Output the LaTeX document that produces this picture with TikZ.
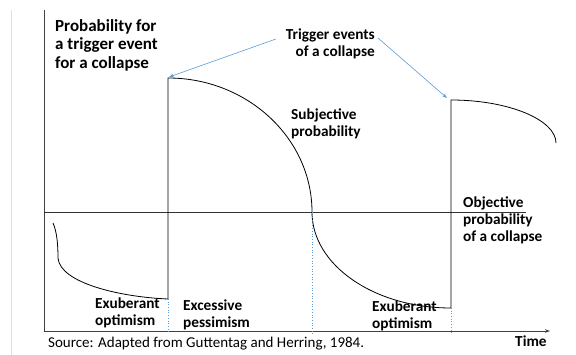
\documentclass[tikz,border=0pt]{standalone}
\usepackage{fontspec}
\setmainfont{Carlito}
\usetikzlibrary{arrows.meta}
\definecolor{trigblue}{RGB}{91,155,213}
\tikzset{
 lbl/.style={font=\bfseries\fontsize{15.3}{17}\selectfont, align=left, inner sep=0pt, anchor=north west},
 curve/.style={line width=0.8pt},
 drop/.style={trigblue, dotted, line width=0.7pt},
}
\begin{document}
\begin{tikzpicture}[>={Stealth[length=5pt,width=3.5pt]}, x=1pt, y=-1pt]
 \useasboundingbox (0,0) rectangle (576,355);
 \draw[black!12, line width=0.6pt] (11,10) -- (11,355);
 % axes
 \coordinate (O) at (44,331);
 \draw[black!75, line width=0.8pt] (44,10) -- (O);
 \draw[->, black!75, line width=0.8pt] (O) -- (550,331) coordinate (xend);
 \node[lbl] (time) at (515,336) {Time};
 % objective probability
 \coordinate (objL) at (44,212);
 \coordinate (objR) at (526,212);
 \draw[black!80, line width=0.8pt] (objL) -- (objR);
 \node[lbl] (obj) at (463,197) {Objective\\probability\\of a collapse};
 % subjective probability
 \coordinate (low1) at (168,299);
 \coordinate (top1) at (168,78);
 \coordinate (cross) at (312,212);
 \coordinate (low2) at (451,308);
 \coordinate (top2) at (451,100);
 \coordinate (end) at (556,143);
 \draw[curve] (53,223) .. controls (57,232) and (58,245) .. (58,258)
   .. controls (60,283) and (120,297) .. (low1) -- (top1)
   .. controls (247,78) and (312,138) .. (cross)
   .. controls (312,265) and (374,308) .. (low2) -- (top2)
   .. controls (509,100) and (556,120) .. (end);
 \node[lbl] (subj) at (291,109) {Subjective\\probability};
 % dotted drops to the time axis
 \draw[drop] (low1) -- (low1 |- 0,334);
 \draw[drop] (cross) -- (cross |- 0,334);
 \draw[drop] (low2) -- (low2 |- 0,334);
 % phases
 \node[lbl] (exub1) at (95,298) {Exuberant\\optimism};
 \node[lbl] (exces) at (183,300) {Excessive\\pessimism};
 \node[lbl] (exub2) at (372,301) {Exuberant\\optimism};
 % labels at the top
 \node[lbl, font=\bfseries\fontsize{17}{18.5}\selectfont] (ylabel) at (55,19) {Probability for\\a trigger event\\for a collapse};
 \node[lbl, align=right, anchor=north east] (trig) at (375,29) {Trigger events\\of a collapse};
 \coordinate (trigL) at (276,39);
 \coordinate (trigR) at (378,38);
 \draw[->, trigblue, line width=0.6pt] (trigL) -- (169,77);
 \draw[->, trigblue, line width=0.6pt] (trigR) -- (447,98);
 % source
 \node[inner sep=0pt, anchor=north west, font=\fontsize{15}{17}\selectfont] (src) at (48,337)
   {Source: Adapted from Guttentag and Herring, 1984.};
\end{tikzpicture}
\end{document}
